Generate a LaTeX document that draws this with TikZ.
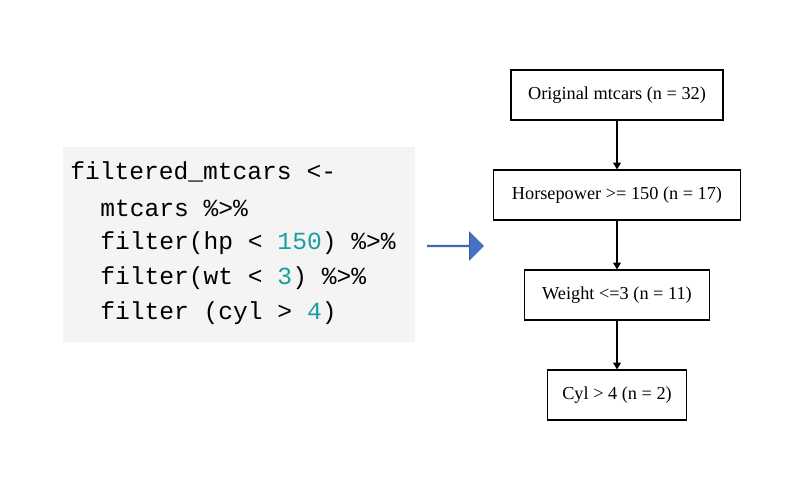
\documentclass[tikz,border=0pt]{standalone}
\usepackage{fontspec}
\setmainfont{Liberation Serif}
\newfontfamily\codefont{Liberation Mono}
\usetikzlibrary{positioning, arrows.meta, shapes.arrows}
\definecolor{codebg}{HTML}{F4F4F4}
\definecolor{codenum}{HTML}{1A9E9E}
\definecolor{arrowblue}{HTML}{4472C4}
\newcommand{\num}[1]{\textcolor{codenum}{#1}}

\begin{document}
\begin{tikzpicture}[x=0.025cm,y=-0.025cm,>=Triangle,
    filterbox/.style={draw,thick,minimum height=1.25cm,font=\fontsize{13}{15}\selectfont},
    codeline/.style={anchor=west,inner sep=0pt,font=\codefont\fontsize{17.5}{20}\selectfont}]
    %%% frame %%%
    \useasboundingbox (0,0) rectangle (802,481);
    \fill[codebg] (63,147) rectangle (415,342);

    %%% code %%%
    \node[codeline] (l1) at (70,172) {filtered\_mtcars <-};
    \node[codeline] (l2) at (100,208) {mtcars \%>\%};
    \node[codeline] (l3) at (100,243) {filter(hp < \num{150}) \%>\%};
    \node[codeline] (l4) at (100,278) {filter(wt < \num{3}) \%>\%};
    \node[codeline] (l5) at (100,313) {filter (cyl > \num{4})};

    % block arrow
    \node[single arrow,fill=arrowblue,draw=arrowblue!80!black,minimum width=0.7cm,
          single arrow head extend=0.1cm,minimum height=1.4cm,inner sep=0pt] (go) at (455,246) {};

    %%% flowchart %%%
    \node[filterbox,minimum width=5.3cm] (orig) at (617,95) {Original mtcars (n = 32)};
    \node[filterbox,minimum width=6.175cm] (hp) at (617,195) {Horsepower >= 150 (n = 17)};
    \node[filterbox,minimum width=4.625cm] (wt) at (617,295) {Weight <=3 (n = 11)};
    \node[filterbox,minimum width=3.475cm] (cyl) at (617,395) {Cyl > 4 (n = 2)};

    \path[->,thick]
    (orig) edge (hp)
    (hp)   edge (wt)
    (wt)   edge (cyl);
\end{tikzpicture}
\end{document}
